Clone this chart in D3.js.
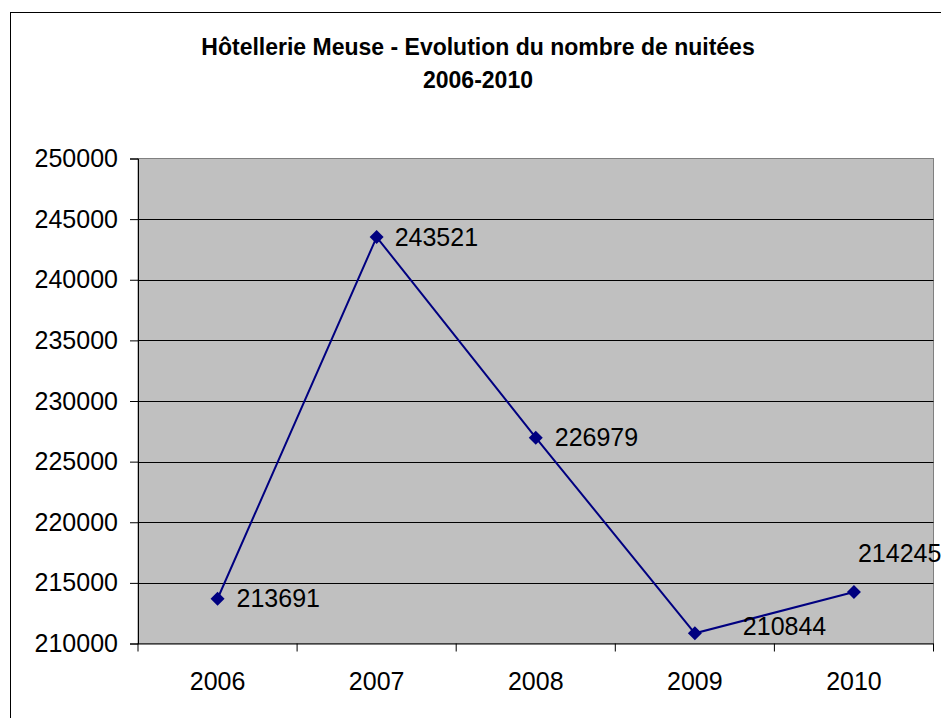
<!DOCTYPE html>
<html>
<head>
<meta charset="utf-8">
<script src="https://cdn.jsdelivr.net/npm/d3@7"></script>
<style>
  html, body { margin: 0; padding: 0; background: #fff; }
  svg { display: block; font-family: "Liberation Sans", Arial, sans-serif; }
</style>
</head>
<body>
<div id="chart"></div>
<script>
// données
const years = ['2006', '2007', '2008', '2009', '2010'];
const nuitees = [213691, 243521, 226979, 210844, 214245];
const yTicks = [210000, 215000, 220000, 225000, 230000, 235000, 240000, 245000, 250000];
const titleLines = ['Hôtellerie Meuse - Evolution du nombre de nuitées', '2006-2010'];

// décalage manuel des étiquettes (comme dans Excel)
const labelOffsets = [[19, 0], [18, 0], [19, 0], [48, -7], [4, -39]];

const width = 941, height = 718;
const plot = { left: 138, top: 158.5, right: 933.5, bottom: 643.5 };

const svg = d3.select('#chart')
    .append('svg')
    .attr('width', width)
    .attr('height', height);

// cadre du graphique
svg.append('rect')
    .attr('x', 10.5).attr('y', 12.5)
    .attr('width', 940).attr('height', 720)
    .attr('fill', '#fff')
    .attr('stroke', '#000')
    .attr('stroke-width', 1);

// titre
svg.append('g')
    .selectAll('text')
    .data(titleLines)
    .enter()
    .append('text')
    .attr('x', 478)
    .attr('y', (d, i) => 54.5 + i * 33)
    .attr('text-anchor', 'middle')
    .attr('font-weight', 'bold')
    .attr('font-size', 23)
    .text(d => d);

// échelles
const x = d3.scaleBand()
    .domain(years)
    .range([plot.left, plot.right]);

const y = d3.scaleLinear()
    .domain([210000, 250000])
    .range([plot.bottom, plot.top]);

// zone de traçage
svg.append('rect')
    .attr('x', plot.left)
    .attr('y', plot.top)
    .attr('width', plot.right - plot.left)
    .attr('height', plot.bottom - plot.top)
    .attr('fill', '#c0c0c0')
    .attr('stroke', '#808080')
    .attr('stroke-width', 1);

// quadrillage
svg.append('g')
    .selectAll('line')
    .data(yTicks.slice(1, -1))
    .enter()
    .append('line')
    .attr('x1', plot.left)
    .attr('x2', plot.right)
    .attr('y1', d => Math.round(y(d)) + 0.5)
    .attr('y2', d => Math.round(y(d)) + 0.5)
    .attr('stroke', '#000')
    .attr('stroke-width', 1);

// axe Y
const yAxis = svg.append('g')
    .attr('transform', `translate(${plot.left},0)`)
    .call(d3.axisLeft(y).tickValues(yTicks).tickFormat(d3.format('d')).tickSize(8).tickPadding(12));

// axe X
const xAxis = svg.append('g')
    .attr('transform', `translate(0,${plot.bottom})`)
    .call(d3.axisBottom(x).tickSize(0).tickPadding(29));

// graduations X aux limites des catégories
xAxis.selectAll('.bound')
    .data(years.map(d => x(d)).concat([plot.right]))
    .enter()
    .append('line')
    .attr('class', 'bound')
    .attr('x1', d => d)
    .attr('x2', d => d)
    .attr('y1', 0)
    .attr('y2', 8)
    .attr('stroke', '#000');

[yAxis, xAxis].forEach(g => {
    g.select('.domain').attr('stroke', '#000').attr('stroke-width', 1);
    g.selectAll('.tick line').attr('stroke', '#000');
    g.selectAll('text')
        .attr('font-family', '"Liberation Sans", Arial, sans-serif')
        .attr('font-size', 25)
        .attr('fill', '#000');
});
xAxis.select('.domain').attr('d', `M${plot.left},0.5H${plot.right}`);

// ligne
const line = d3.line()
    .x((d, i) => x(years[i]) + x.bandwidth() / 2)
    .y(d => y(d));

svg.append('path')
    .datum(nuitees)
    .attr('d', line)
    .attr('fill', 'none')
    .attr('stroke', '#000080')
    .attr('stroke-width', 2);

// marqueurs losange
svg.append('g')
    .selectAll('path')
    .data(nuitees)
    .enter()
    .append('path')
    .attr('transform', (d, i) => `translate(${x(years[i]) + x.bandwidth() / 2},${y(d)})`)
    .attr('d', 'M0,-7L7,0L0,7L-7,0Z')
    .attr('fill', '#000080');

// étiquettes de données
svg.append('g')
    .selectAll('text')
    .data(nuitees)
    .enter()
    .append('text')
    .attr('x', (d, i) => x(years[i]) + x.bandwidth() / 2 + labelOffsets[i][0])
    .attr('y', (d, i) => y(d) + labelOffsets[i][1])
    .attr('dy', '0.35em')
    .attr('font-size', 25)
    .text(d => d);
</script>
</body>
</html>
